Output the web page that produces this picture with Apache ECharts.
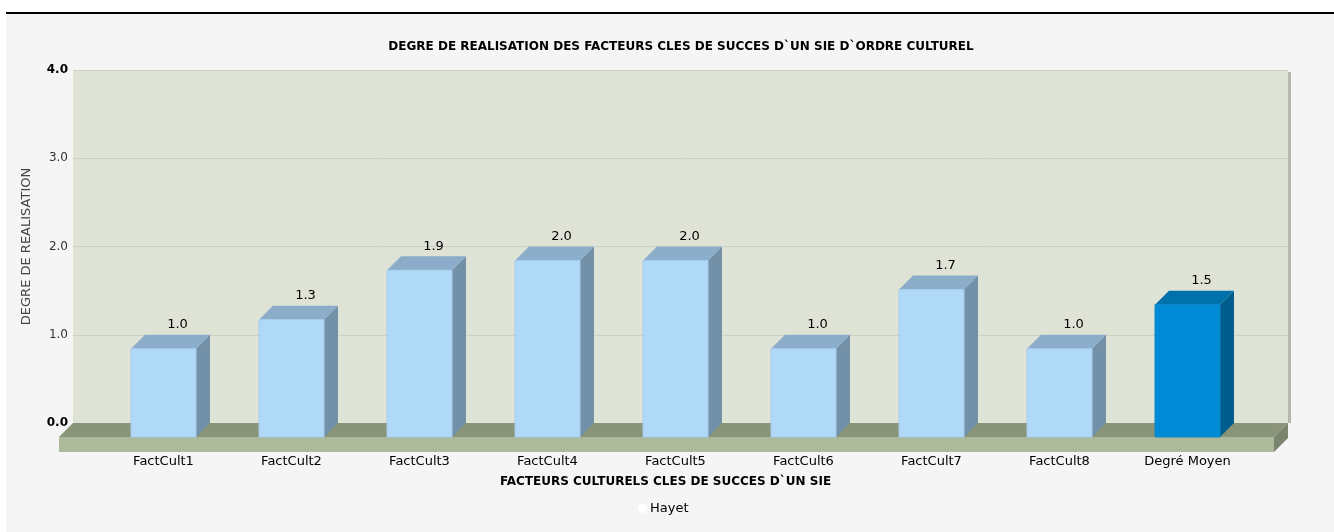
<!DOCTYPE html>
<html><head><meta charset="utf-8">
<script src="https://cdn.jsdelivr.net/npm/echarts@6/dist/echarts.min.js"></script>
<style>html,body{margin:0;padding:0;background:#fff}#c{width:1334px;height:532px}</style>
</head><body><div id="c"></div>
<script>
const categories = ['FactCult1','FactCult2','FactCult3','FactCult4','FactCult5','FactCult6','FactCult7','FactCult8','Degré Moyen'];
const values = [1.0, 1.33, 1.89, 2.0, 2.0, 1.0, 1.67, 1.0, 1.5];
const highlightCategory = 'Degré Moyen';
const seriesName = 'Hayet';
const yMin = 0, yMax = 4, yStep = 1;
const chartTitle = 'DEGRE DE REALISATION DES FACTEURS CLES DE SUCCES D`UN SIE D`ORDRE CULTUREL';
const xName = 'FACTEURS CULTURELS CLES DE SUCCES D`UN SIE';
const yName = 'DEGRE DE REALISATION';

const FONT = 'DejaVu Sans';
const DEPTH = 14;
const BAR_W = 65;

const chart = echarts.init(document.getElementById('c'), null, {renderer: 'canvas'});

function renderFloor(params, api) {
  const cs = params.coordSys;
  const y0 = api.coord([0, 0])[1];
  const x0 = cs.x, x1 = cs.x + cs.width, d = DEPTH, h = 15;
  return {
    type: 'group',
    children: [
      {type: 'rect', shape: {x: x1, y: cs.y + 2, width: 3, height: y0 - cs.y - 2}, style: {fill: '#b4baab'}},
      {type: 'polygon', shape: {points: [[x0, y0], [x1, y0], [x1 - d, y0 + d], [x0 - d, y0 + d]]}, style: {fill: '#8a9479'}},
      {type: 'rect', shape: {x: x0 - d, y: y0 + d, width: x1 - x0, height: h}, style: {fill: '#adb99b'}},
      {type: 'polygon', shape: {points: [[x1 - d, y0 + d], [x1, y0], [x1, y0 + h], [x1 - d, y0 + d + h]]}, style: {fill: '#7b846c'}}
    ]
  };
}

function renderBar(params, api) {
  const idx = api.value(0);
  const v = api.value(1);
  const p = api.coord([idx, v]);
  const b = api.coord([idx, 0]);
  const d = DEPTH;
  const left = p[0] - BAR_W / 2;
  const right = left + BAR_W;
  const hi = categories[idx] === highlightCategory;
  const cFront = hi ? '#008bd6' : '#b0d8f7';
  const cTop = hi ? '#0071ab' : '#8badc9';
  const cSide = hi ? '#005c8c' : '#7290a8';
  return {
    type: 'group',
    children: [
      {type: 'polygon', shape: {points: [[right, p[1]], [right + d, p[1] - d], [right + d, b[1] - d], [right, b[1]]]}, style: {fill: cSide}},
      {type: 'polygon', shape: {points: [[left, p[1]], [left + d, p[1] - d], [right + d, p[1] - d], [right, p[1]]]}, style: {fill: cTop}},
      {type: 'rect', shape: {x: left, y: p[1], width: BAR_W, height: b[1] - p[1]}, style: {fill: cFront, stroke: hi ? '#0a86c8' : '#a3cdee', lineWidth: 1}},
      {type: 'text', x: p[0] + d, y: p[1] - d - 10, style: {text: v.toFixed(1), fill: '#000', font: '13px "' + FONT + '"', align: 'center', verticalAlign: 'middle'}}
    ]
  };
}

const option = {
  backgroundColor: '#f5f5f5',
  animation: false,
  graphic: [
    {type: 'rect', left: 0, top: 0, shape: {width: 1334, height: 12}, style: {fill: '#ffffff'}, z: 100},
    {type: 'rect', left: 0, top: 0, shape: {width: 6, height: 532}, style: {fill: '#ffffff'}, z: 100},
    {type: 'rect', left: 6, top: 12, shape: {width: 1328, height: 2}, style: {fill: '#000000'}, z: 101}
  ],
  title: {
    text: chartTitle,
    left: 676, top: 36, textAlign: 'center',
    textStyle: {fontFamily: FONT, fontSize: 12, fontWeight: 'bold', color: '#000'}
  },
  legend: {
    data: [seriesName],
    left: 633, top: 497,
    icon: 'circle', itemWidth: 9, itemHeight: 9, itemGap: 4,
    textStyle: {fontFamily: FONT, fontSize: 13, color: '#000', padding: [0, 0, 0, -2]}
  },
  grid: [
    {left: 73, top: 70, width: 1215, height: 353, show: true, backgroundColor: '#dee3d6', borderWidth: 0, containLabel: false},
    {left: 99.5, top: 84, width: 1152, height: 353, show: false, containLabel: false}
  ],
  xAxis: [
    {type: 'category', gridIndex: 0, data: categories, show: false},
    {type: 'category', gridIndex: 1, data: categories,
     axisLine: {show: false}, axisTick: {show: false},
     axisLabel: {margin: 18, fontFamily: FONT, fontSize: 13, color: '#000', interval: 0},
     name: xName, nameLocation: 'middle', nameGap: 39,
     nameTextStyle: {fontFamily: FONT, fontSize: 12, fontWeight: 'bold', color: '#000', padding: [0, 20, 0, 0]}}
  ],
  yAxis: [
    {type: 'value', gridIndex: 0, min: yMin, max: yMax, interval: yStep,
     axisLine: {show: false}, axisTick: {show: false},
     splitLine: {show: true, lineStyle: {color: '#cbd1c4', width: 1}},
     axisLabel: {margin: 5, fontFamily: FONT, fontSize: 12, color: '#333',
       formatter: function (v) { const s = v.toFixed(1); return (v === yMin || v === yMax) ? '{b|' + s + '}' : s; },
       rich: {b: {fontFamily: FONT, fontSize: 12, fontWeight: 'bold', color: '#000'}}},
     name: yName, nameLocation: 'middle', nameGap: 40,
     nameTextStyle: {fontFamily: FONT, fontSize: 13, color: '#444'}},
    {type: 'value', gridIndex: 1, min: yMin, max: yMax, interval: yStep, show: false, splitLine: {show: false}}
  ],
  series: [
    {type: 'custom', name: 'floor', xAxisIndex: 0, yAxisIndex: 0, data: [[0, 0]], renderItem: renderFloor, silent: true, z: 1},
    {type: 'custom', name: seriesName, xAxisIndex: 1, yAxisIndex: 1,
     itemStyle: {color: '#ffffff'},
     data: values.map((v, i) => [i, v]), renderItem: renderBar, z: 3}
  ]
};
chart.setOption(option);
</script>
</body></html>
